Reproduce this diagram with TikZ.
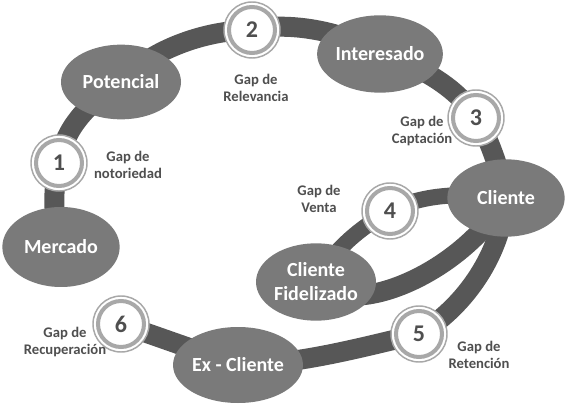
\documentclass[tikz,border=0pt]{standalone}
\usepackage{fontspec}
\setmainfont{Carlito}
\usetikzlibrary{shapes.geometric}
\pgfdeclarelayer{background}
\pgfsetlayers{background,main}
\definecolor{bandgray}{HTML}{575757}
\definecolor{nodegray}{HTML}{7A7A7A}
\definecolor{ringgray}{HTML}{A8A8A8}
\definecolor{textgray}{HTML}{4F4F4F}
\begin{document}
\begin{tikzpicture}[x=0.75pt,y=-0.75pt,
    stage/.style={ellipse, fill=nodegray, text=white, inner sep=0pt, minimum width=90pt, minimum height=58pt, align=center, font=\fontsize{15}{18}\selectfont\bfseries},
    gapnum/.style={circle, fill=white, draw=ringgray, line width=1.1pt, minimum size=42pt, inner sep=0pt, text=textgray, font=\fontsize{18}{20}\selectfont\bfseries},
    gaptext/.style={text=textgray, align=center, font=\fontsize{11}{13}\selectfont\bfseries},
    band/.style={draw=bandgray, line width=15pt}]
    \useasboundingbox (0,0) rectangle (571,413);

        %Etapas
        \node[stage, minimum width=88pt, minimum height=60pt] (Mercado) at (61,247) {Mercado};
        \node[stage, minimum height=56pt] (Potencial) at (121,82) {Potencial};
        \node[stage, minimum height=58pt] (Interesado) at (380,54) {Interesado};
        \node[stage, minimum width=88pt] (Cliente) at (506,198) {Cliente};
        \node[stage] (Fidelizado) at (316,282) {Cliente\\Fidelizado};
        \node[stage, minimum width=91pt, minimum height=57pt] (ExCliente) at (238,365) {Ex - Cliente};

        %Gaps
        \node[gapnum] (g1) at (59,163) {1};
        \node[gapnum] (g2) at (252,30) {2};
        \node[gapnum] (g3) at (476,118) {3};
        \node[gapnum] (g4) at (390,211) {4};
        \node[gapnum] (g5) at (419,334) {5};
        \node[gapnum] (g6) at (121,324) {6};
        \foreach \g in {g1,g2,g3,g4,g5,g6}
            \draw[ringgray, line width=3pt] (\g.center) circle (17.25pt);

        \node[gaptext] (t1) at (128,165) {Gap de\\notoriedad};
        \node[gaptext] (t2) at (256,88) {Gap de\\Relevancia};
        \node[gaptext] (t3) at (422,131) {Gap de\\Captación};
        \node[gaptext] (t4) at (319,199) {Gap de\\Venta};
        \node[gaptext] (t5) at (479,355) {Gap de\\Retención};
        \node[gaptext] (t6) at (65,342) {Gap de\\Recuperación};

        %Recorrido
        \begin{pgfonlayer}{background}
            \fill[white] (0,0) rectangle (571,413);
            \draw[band] (Mercado.center) .. controls (53,220) and (52,190) .. (g1.center)
                .. controls (63,135) and (80,108) .. (Potencial.center)
                .. controls (150,50) and (205,30) .. (g2.center)
                .. controls (280,22) and (340,28) .. (Interesado.center)
                .. controls (420,65) and (460,90) .. (g3.center)
                .. controls (488,135) and (500,170) .. (Cliente.center);
            \draw[band, line width=12pt] (Cliente.center) .. controls (460,192) and (420,195) .. (g4.center)
                .. controls (370,222) and (335,245) .. (Fidelizado.center);
            \draw[band] (Fidelizado.center) .. controls (350,320) and (460,275) .. (Cliente.center);
            \draw[band] (Cliente.center) .. controls (500,260) and (460,310) .. (g5.center)
                .. controls (370,345) and (300,365) .. (ExCliente.center);
            \draw[band] (ExCliente.center) -- (g6.center);
        \end{pgfonlayer}
    \end{tikzpicture}
\end{document}
